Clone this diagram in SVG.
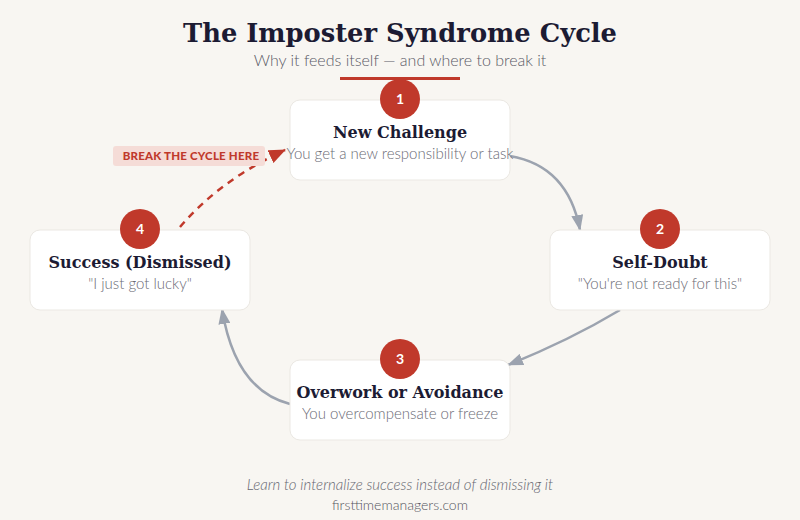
<svg xmlns="http://www.w3.org/2000/svg" width="800" height="520" viewBox="0 0 800 520">
<defs>
<style>
.title{font-family:"DejaVu Serif","Liberation Serif",serif;font-weight:bold;fill:#1c1b33}
.sub{font-family:Lato,"Noto Sans",sans-serif;fill:#5a5a66}
.card{fill:#ffffff;stroke:#ebe8e3;stroke-width:1}
.badge{fill:#c0392b}
.num{font-family:Lato,"Noto Sans",sans-serif;font-weight:bold;font-size:14px;fill:#ffffff;text-anchor:middle}
.ntitle{font-family:"DejaVu Serif","Liberation Serif",serif;font-weight:bold;font-size:16px;fill:#1c1b33;text-anchor:middle}
.ndesc{font-family:Lato,"Noto Sans",sans-serif;font-weight:300;font-size:15px;fill:#6b6b75;text-anchor:middle}
.conn{fill:none;stroke:#9ca3af;stroke-width:2.5}
.brk{fill:none;stroke:#c0392b;stroke-width:2.5;stroke-dasharray:7 6}
</style>
<marker id="ah" viewBox="0 0 16 12" refX="15" refY="6" markerWidth="16" markerHeight="12" markerUnits="userSpaceOnUse" orient="auto">
<path d="M0 0 L16 6 L0 12 z" fill="#9ca3af"/>
</marker>
<marker id="ahr" viewBox="0 0 17 14" refX="16" refY="7" markerWidth="17" markerHeight="14" markerUnits="userSpaceOnUse" orient="auto">
<path d="M0 0 L17 7 L0 14 z" fill="#c0392b"/>
</marker>
</defs>
<rect width="800" height="520" fill="#f8f6f2"/>
<g id="header">
<text class="title" x="400" y="42" text-anchor="middle" font-size="26" textLength="434" lengthAdjust="spacingAndGlyphs">The Imposter Syndrome Cycle</text>
<text class="sub" x="400" y="66" text-anchor="middle" font-size="16" font-weight="300">Why it feeds itself — and where to break it</text>
<rect x="340" y="77" width="120" height="3" fill="#c0392b"/>
</g>
<g id="connectors">
<path class="conn" d="M510 156 Q568 166 580 230" marker-end="url(#ah)"/>
<path class="conn" d="M620 310 Q570 340 508 365" marker-end="url(#ah)"/>
<path class="conn" d="M290 404 Q235 390 222 309" marker-end="url(#ah)"/>
<path class="brk" d="M180 227 Q220 180 285 150" marker-end="url(#ahr)"/>
</g>
<g id="node1">
<rect class="card" x="290" y="100" width="220" height="80" rx="10"/>
<circle class="badge" cx="400" cy="99" r="20"/>
<text class="num" x="400" y="104">1</text>
<text class="ntitle" x="400" y="138">New Challenge</text>
<text class="ndesc" x="400" y="159">You get a new responsibility or task</text>
</g>
<g id="node2">
<rect class="card" x="550" y="230" width="220" height="80" rx="10"/>
<circle class="badge" cx="660" cy="229" r="20"/>
<text class="num" x="660" y="234">2</text>
<text class="ntitle" x="660" y="268">Self-Doubt</text>
<text class="ndesc" x="660" y="289">"You're not ready for this"</text>
</g>
<g id="node3">
<rect class="card" x="290" y="360" width="220" height="80" rx="10"/>
<circle class="badge" cx="400" cy="359" r="20"/>
<text class="num" x="400" y="364">3</text>
<text class="ntitle" x="400" y="398">Overwork or Avoidance</text>
<text class="ndesc" x="400" y="419">You overcompensate or freeze</text>
</g>
<g id="node4">
<rect class="card" x="30" y="230" width="220" height="80" rx="10"/>
<circle class="badge" cx="140" cy="229" r="20"/>
<text class="num" x="140" y="234">4</text>
<text class="ntitle" x="140" y="268">Success (Dismissed)</text>
<text class="ndesc" x="140" y="289">"I just got lucky"</text>
</g>
<g id="break-label">
<rect x="113" y="146" width="152" height="20" rx="3" fill="#f5dcd7"/>
<text x="191" y="160" text-anchor="middle" font-family="Lato,'Noto Sans',sans-serif" font-weight="900" font-size="11.5" fill="#c0392b" letter-spacing="0.2">BREAK THE CYCLE HERE</text>
</g>
<g id="footer">
<text x="400" y="490" text-anchor="middle" font-family="Lato,'Noto Sans',sans-serif" font-style="italic" font-weight="300" font-size="15" fill="#666670">Learn to internalize success instead of dismissing it</text>
<text x="400" y="510" text-anchor="middle" font-family="Lato,'Noto Sans',sans-serif" font-weight="300" font-size="14" fill="#555560">firsttimemanagers.com</text>
</g>
</svg>
